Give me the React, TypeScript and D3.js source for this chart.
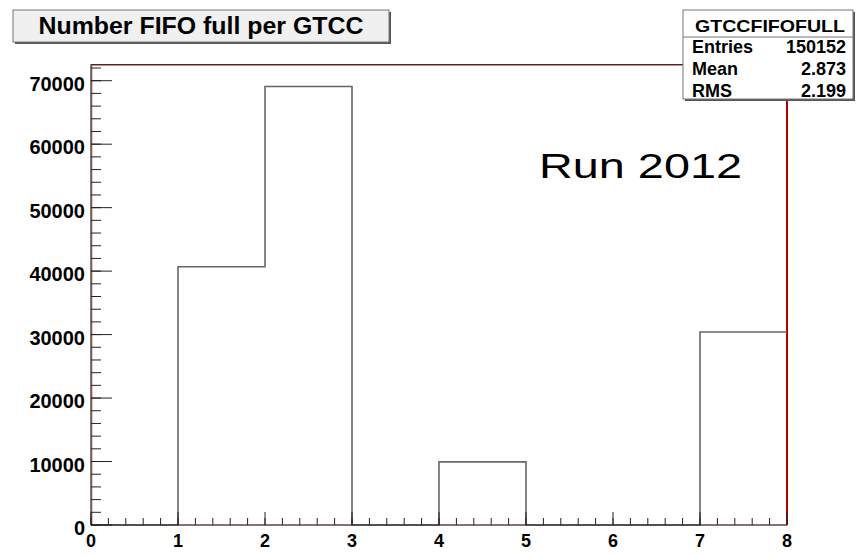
import React, { useEffect, useRef } from "react";
import * as d3 from "d3";

// bin edges and contents of the GTCCFIFOFULL histogram
const binEdges: number[] = [0, 1, 2, 3, 4, 5, 6, 7, 8];
const binCounts: number[] = [0, 40700, 69100, 0, 9950, 0, 0, 30400];
const yTicks: number[] = [0, 10000, 20000, 30000, 40000, 50000, 60000, 70000];
const xTicks: number[] = [0, 1, 2, 3, 4, 5, 6, 7, 8];
const statNames: string[] = ["Entries", "Mean", "RMS"];
const statValues: string[] = ["150152", "2.873", "2.199"];

const width = 859;
const height = 557;
const marginLeft = 91;
const marginRight = 72;
const marginTop = 64.5;
const marginBottom = 32;

const font = "'Liberation Sans', Arial, Helvetica, sans-serif";

const App = () => {
  const axisLeftEl = useRef<SVGGElement>(null);
  const axisBottomEl = useRef<SVGGElement>(null);

  const x = d3
    .scaleLinear()
    .domain([0, 8])
    .range([marginLeft, width - marginRight]);

  const yMax = (d3.max(binCounts) as number) * 1.05;
  const y = d3
    .scaleLinear()
    .domain([0, yMax])
    .range([height - marginBottom, marginTop]);

  // histogram outline as a step path
  const pts: [number, number][] = [];
  binCounts.forEach((c, i) => {
    pts.push([binEdges[i], c]);
    pts.push([binEdges[i + 1], c]);
  });
  const line = d3
    .line<[number, number]>()
    .x((d) => x(d[0]))
    .y((d) => y(d[1]));

  const yMinor = d3.range(0, yMax, 2000);
  const xMinor = d3.range(0, 8.001, 0.2);

  useEffect(() => {
    const gl = d3.select(axisLeftEl.current);
    gl.selectAll("*").remove();
    gl.selectAll("line.minor")
      .data(yMinor)
      .join("line")
      .attr("x1", 0)
      .attr("x2", 10)
      .attr("y1", (d) => y(d))
      .attr("y2", (d) => y(d))
      .attr("stroke", "#222")
      .attr("stroke-width", 1);
    gl.selectAll("line.major")
      .data(yTicks)
      .join("line")
      .attr("x1", 0)
      .attr("x2", 21)
      .attr("y1", (d) => y(d))
      .attr("y2", (d) => y(d))
      .attr("stroke", "#222")
      .attr("stroke-width", 1);
    gl.selectAll("text")
      .data(yTicks)
      .join("text")
      .attr("x", -6)
      .attr("y", (d) => y(d) + 10)
      .attr("text-anchor", "end")
      .attr("font-family", font)
      .attr("font-weight", "bold")
      .attr("font-size", 20)
      .text((d) => String(d));

    const gb = d3.select(axisBottomEl.current);
    gb.selectAll("*").remove();
    gb.selectAll("line.minor")
      .data(xMinor)
      .join("line")
      .attr("x1", (d) => x(d))
      .attr("x2", (d) => x(d))
      .attr("y1", 0)
      .attr("y2", -7)
      .attr("stroke", "#222");
    gb.selectAll("line.major")
      .data(xTicks)
      .join("line")
      .attr("x1", (d) => x(d))
      .attr("x2", (d) => x(d))
      .attr("y1", 0)
      .attr("y2", -13)
      .attr("stroke", "#222");
    gb.selectAll("text")
      .data(xTicks)
      .join("text")
      .attr("x", (d) => x(d))
      .attr("y", 22)
      .attr("text-anchor", "middle")
      .attr("font-family", font)
      .attr("font-weight", "bold")
      .attr("font-size", 18)
      .text((d) => String(d));
  });

  const x0 = x(0);
  const x8 = x(8);
  const y0 = y(0);
  const yTop = marginTop;

  return (
    <svg
      width={width}
      height={height}
      style={{ position: "absolute", left: 0, top: 0, background: "#fff" }}
    >
      {/* frame */}
      <rect
        x={x0 + 1}
        y={yTop + 1}
        width={x8 - x0 - 1}
        height={y0 - yTop - 1}
        fill="none"
        stroke="#e08080"
        strokeWidth={1}
      />
      <line x1={x8} x2={x8} y1={yTop} y2={y0} stroke="#b00000" strokeWidth={2} />
      <line x1={x0} x2={x8} y1={yTop} y2={yTop} stroke="#333" strokeWidth={1} />

      <path
        d={line(pts) as string}
        fill="none"
        stroke="#666"
        strokeWidth={1.6}
      />

      <line x1={x0} x2={x0} y1={yTop} y2={y0} stroke="#222" strokeWidth={1.2} />
      <line x1={x0} x2={x8} y1={y0} y2={y0} stroke="#222" strokeWidth={1.2} />
      <g ref={axisLeftEl} transform={`translate(${x0},0)`} />
      <g ref={axisBottomEl} transform={`translate(0,${y0})`} />

      {/* title box */}
      <rect x={15} y={12} width={376} height={32} fill="#555" />
      <rect x={13} y={10} width={376} height={32} fill="#f0f0f0" stroke="#777" strokeWidth={1} />
      <text
        x={201}
        y={34}
        textAnchor="middle"
        fontFamily={font}
        fontWeight="bold"
        fontSize={23}
        textLength={325}
        lengthAdjust="spacingAndGlyphs"
      >
        Number FIFO full per GTCC
      </text>

      {/* stats box */}
      <rect x={685} y={12} width={170} height={89} fill="#555" />
      <rect x={683} y={10} width={170} height={89} fill="#fff" stroke="#777" strokeWidth={1} />
      <line x1={683} x2={853} y1={37} y2={37} stroke="#777" />
      <text
        x={770}
        y={32}
        textAnchor="middle"
        fontFamily={font}
        fontWeight="bold"
        fontSize={17}
        textLength={150}
        lengthAdjust="spacingAndGlyphs"
      >
        GTCCFIFOFULL
      </text>
      {statNames.map((n, i) => (
        <text
          key={n}
          x={692}
          y={53 + i * 22}
          fontFamily={font}
          fontWeight="bold"
          fontSize={18}
        >
          {n}
        </text>
      ))}
      {statValues.map((v, i) => (
        <text
          key={v}
          x={846}
          y={53 + i * 22}
          textAnchor="end"
          fontFamily={font}
          fontWeight="bold"
          fontSize={18}
        >
          {v}
        </text>
      ))}

      <text
        x={539}
        y={178}
        fontFamily={font}
        fontSize={35}
        textLength={203}
        lengthAdjust="spacingAndGlyphs"
      >
        Run 2012
      </text>
    </svg>
  );
};

export default App;
